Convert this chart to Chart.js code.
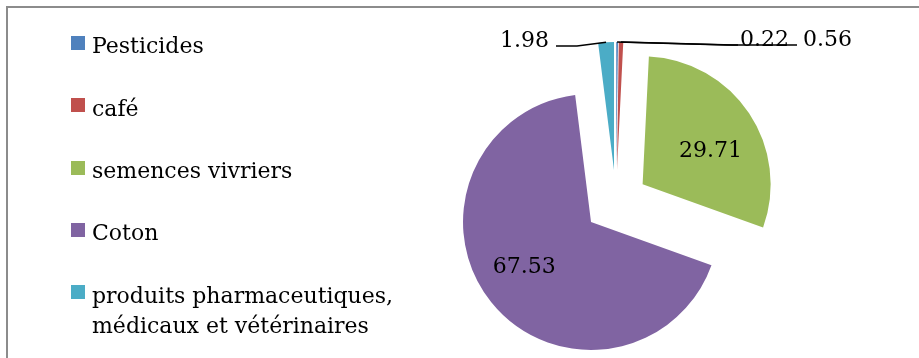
<!DOCTYPE html>
<html>
<head>
<meta charset="utf-8">
<script src="https://cdn.jsdelivr.net/npm/chart.js@4.4.1/dist/chart.umd.min.js"></script>
<style>
  html, body { margin: 0; padding: 0; background: #fff; }
  #wrap { position: relative; width: 919px; height: 358px; overflow: hidden; }
  #wrap canvas { position: absolute; left: 0; top: 0; }
  #frame { position: absolute; left: 6px; top: 6px; width: 1000px; height: 1000px;
           border-left: 2px solid #8c8c8c; border-top: 2px solid #8c8c8c; pointer-events: none; }
</style>
</head>
<body>
<div id="wrap">
  <canvas id="chart" width="919" height="358"></canvas>
  <div id="frame"></div>
</div>
<script>
// Categories, in drawing order (clockwise from 12 o'clock)
const categories = [
  'Pesticides',
  'café',
  'semences vivriers',
  'Coton',
  'produits pharmaceutiques, médicaux et vétérinaires'
];
// Legend text, wrapped
const legendLines = [
  ['Pesticides'],
  ['café'],
  ['semences vivriers'],
  ['Coton'],
  ['produits pharmaceutiques,', 'médicaux et vétérinaires']
];
// Shares (%)
const shares = [0.22, 0.56, 29.71, 67.53, 1.98];
const colors = ['#4F81BD', '#C0504D', '#9BBB59', '#8064A2', '#4BACC6'];

const FONT = '22px "DejaVu Serif"';
const PIE_RADIUS = 128;
const EXPLODE = 32;           // pixels each slice is pulled out from the centre

// Label placement per slice: inside labels sit along the slice bisector,
// callouts get a leader line from the rim to a text anchor (relative to pie centre).
const labelStyle = [
  { type: 'callout', align: 'left',  text: [124, -156], path: [[111, -157], [122, -157]] },
  { type: 'callout', align: 'left',  text: [187, -156], path: [[117, -157], [181, -157]] },
  { type: 'inside', k: 0.6, turn: 6 },
  { type: 'inside', k: 0.62, turn: 6 },
  { type: 'callout', align: 'right', text: [-67, -155], path: [[-39, -156], [-60, -156]] }
];

function sliceCentre(arc) {
  const mid = (arc.startAngle + arc.endAngle) / 2;
  return { x: arc.x + Math.cos(mid) * EXPLODE, y: arc.y + Math.sin(mid) * EXPLODE, mid };
}

// Exploded pie: each arc element is drawn shifted along its bisector
const explodedArcs = {
  id: 'explodedArcs',
  beforeDatasetDraw(chart, args) {
    const ctx = chart.ctx;
    args.meta.data.forEach(arc => {
      const mid = (arc.startAngle + arc.endAngle) / 2;
      ctx.save();
      ctx.translate(Math.cos(mid) * EXPLODE, Math.sin(mid) * EXPLODE);
      arc.draw(ctx);
      ctx.restore();
    });
    return false;
  }
};

const sliceLabels = {
  id: 'sliceLabels',
  afterDatasetsDraw(chart) {
    const ctx = chart.ctx;
    const meta = chart.getDatasetMeta(0);
    const values = chart.data.datasets[0].data;
    ctx.save();
    ctx.font = FONT;
    ctx.fillStyle = '#000';
    ctx.strokeStyle = '#000';
    ctx.lineWidth = 1.5;
    ctx.textBaseline = 'alphabetic';
    meta.data.forEach((arc, i) => {
      const st = labelStyle[i];
      const c = sliceCentre(arc);
      const txt = values[i].toFixed(2);
      if (st.type === 'inside') {
        const a = c.mid + st.turn * Math.PI / 180;
        const x = c.x + Math.cos(a) * PIE_RADIUS * st.k;
        const y = c.y + Math.sin(a) * PIE_RADIUS * st.k;
        ctx.textAlign = 'center';
        ctx.fillText(txt, x, y + 8);
      } else {
        const ox = arc.x, oy = arc.y;
        ctx.beginPath();
        ctx.moveTo(c.x + Math.cos(c.mid) * PIE_RADIUS, c.y + Math.sin(c.mid) * PIE_RADIUS);
        st.path.forEach(p => ctx.lineTo(ox + p[0], oy + p[1]));
        ctx.stroke();
        ctx.textAlign = st.align;
        ctx.fillText(txt, ox + st.text[0], oy + st.text[1]);
      }
    });
    ctx.restore();
  }
};

const sideLegend = {
  id: 'sideLegend',
  afterDraw(chart) {
    const ctx = chart.ctx;
    const ds = chart.data.datasets[0];
    ctx.save();
    ctx.font = FONT;
    ctx.textAlign = 'left';
    ctx.textBaseline = 'alphabetic';
    legendLines.forEach((lines, i) => {
      const top = 36 + i * 62.3;
      ctx.fillStyle = ds.backgroundColor[i];
      ctx.fillRect(71, Math.round(top), 14, 14);
      ctx.fillStyle = '#000';
      lines.forEach((ln, j) => ctx.fillText(ln, 92, top + 17.3 + j * 30));
    });
    ctx.restore();
  }
};

new Chart(document.getElementById('chart'), {
  type: 'pie',
  data: {
    labels: categories,
    datasets: [{
      data: shares,
      backgroundColor: colors,
      borderWidth: 0
    }]
  },
  options: {
    responsive: false,
    devicePixelRatio: 1,
    animation: false,
    radius: PIE_RADIUS,
    layout: { padding: { left: 313, top: 46, right: 0, bottom: 0 } },
    plugins: {
      legend: { display: false },
      tooltip: { enabled: false }
    },
    events: []
  },
  plugins: [explodedArcs, sliceLabels, sideLegend]
});
</script>
</body>
</html>
